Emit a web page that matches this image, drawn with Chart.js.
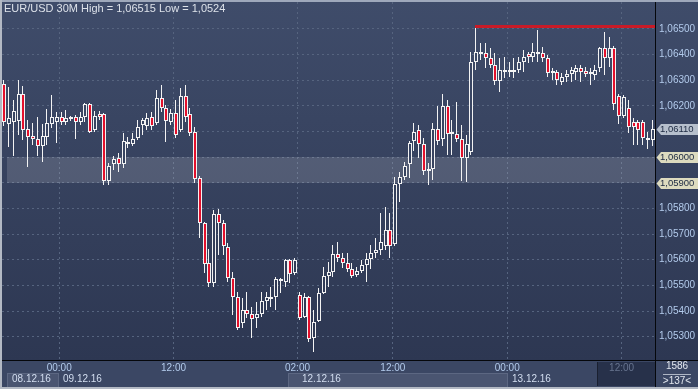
<!DOCTYPE html>
<html><head><meta charset="utf-8">
<script src="https://cdn.jsdelivr.net/npm/chart.js@4.4.0/dist/chart.umd.min.js"></script>
<style>
html,body{margin:0;padding:0;background:#3b4764;}
#wrap{position:relative;width:698px;height:389px;overflow:hidden;font-family:"Liberation Sans",Arial,sans-serif;}
.abs{position:absolute;}
#plotbg{left:0;top:0;width:698px;height:360px;background:linear-gradient(#3f4c6a,#2d3752);}
#axbg{left:0;top:360px;width:698px;height:29px;background:#3b4764;}
canvas{position:absolute;left:0;top:0;}
.txt{position:absolute;white-space:nowrap;font-size:10px;line-height:12px;}
</style></head>
<body>
<div id="wrap">
  <div class="abs" id="plotbg"></div>
  <div class="abs" id="axbg"></div>
  <div class="abs" style="left:7px;top:373px;width:50px;height:13px;background:#4a5571;border:1px solid #5c6782;"></div>
  <div class="abs" style="left:288px;top:373px;width:218px;height:13px;background:#4a5571;border:1px solid #5c6782;"></div>
  <div class="abs" style="left:597px;top:362px;width:58px;height:24px;background:#27314a;border-left:1px solid #1a2030;"></div>
  <canvas id="c" width="698" height="389"></canvas>
  <div class="abs" style="left:0;top:360px;width:698px;height:1px;background:#05070b;"></div>
  <div class="abs" style="left:655px;top:0;width:1px;height:389px;background:#05070b;"></div>
  <div class="abs" style="left:0;top:0;width:698px;height:2px;background:#9ea8bb;"></div>
  <div class="abs" style="left:0;top:0;width:2px;height:389px;background:#b3b9c4;"></div>
  <div class="abs" style="left:0;top:387px;width:698px;height:2px;background:#b3b9c4;"></div>
  <div class="txt" id="title" style="left:4px;top:2px;font-size:11px;line-height:13px;color:#dde2ea;"></div>
  <div class="txt" id="d0" style="left:12px;top:373px;color:#d3def0;"></div>
  <div class="txt" id="d1" style="left:63px;top:373px;color:#d3def0;"></div>
  <div class="txt" id="d2" style="left:302px;top:373px;color:#d3def0;"></div>
  <div class="txt" id="d3" style="left:512px;top:373px;color:#d3def0;"></div>
  <div class="txt" id="cnt1" style="left:656px;width:42px;text-align:center;top:360px;color:#e2e7ef;"></div>
  <div class="abs" style="left:663px;top:374px;width:28px;height:1px;background:#aeb6c4;"></div>
  <div class="txt" id="cnt2" style="left:656px;width:42px;text-align:center;top:375px;color:#e2e7ef;"></div>
</div>
<script>
const TITLE = 'EUR/USD 30M High = 1,06515 Low = 1,0524';
const DATE_LABELS = ['08.12.16', '09.12.16', '12.12.16', '13.12.16'];
const BAR_COUNT_TEXT = ['1586', '>137<'];

const HALF_HOURS = ['00:00','00:30','01:00','01:30','02:00','02:30','03:00','03:30','04:00','04:30','05:00','05:30',
'06:00','06:30','07:00','07:30','08:00','08:30','09:00','09:30','10:00','10:30','11:00','11:30',
'12:00','12:30','13:00','13:30','14:00','14:30','15:00','15:30','16:00','16:30','17:00','17:30',
'18:00','18:30','19:00','19:30','20:00','20:30','21:00','21:30','22:00','22:30','23:00','23:30'];

// categories: 08.12 18:00 .. 08.12 23:30, 09.12 00:00 .. 22:30, 12.12 00:00 .. 23:30, 13.12 00:00 .. 15:00
const CATEGORIES = [
  ...HALF_HOURS.slice(36).map(t => '08.12.16 ' + t),
  ...HALF_HOURS.slice(0, 46).map(t => '09.12.16 ' + t),
  ...HALF_HOURS.map(t => '12.12.16 ' + t),
  ...HALF_HOURS.slice(0, 31).map(t => '13.12.16 ' + t)
];

const OPEN = [1.06285,1.06129,1.06137,1.06141,1.06246,1.06110,1.06083,1.06071,1.06044,1.06079,
1.06129,1.06137,1.06157,1.06137,1.06153,1.06157,1.06137,1.06157,1.06207,1.06106,
1.06168,1.06168,1.05907,1.05973,1.05997,1.05973,1.06059,1.06051,1.06075,1.06126,
1.06122,1.06157,1.06133,1.06231,1.06192,1.06137,1.06172,1.06106,1.06239,1.06168,
1.06098,1.05919,1.05743,1.05587,1.05509,1.05778,1.05743,1.05650,1.05529,1.05455,
1.05353,1.05404,1.05388,1.05373,1.05388,1.05439,1.05455,1.05455,1.05525,1.05513,
1.05599,1.05548,1.05463,1.05377,1.05455,1.05295,1.05361,1.05470,1.05537,1.05552,
1.05622,1.05607,1.05587,1.05564,1.05541,1.05556,1.05580,1.05603,1.05626,1.05638,
1.05654,1.05716,1.05661,1.05895,1.05923,1.05973,1.06063,1.06106,1.06051,1.05954,
1.05954,1.06110,1.06071,1.06200,1.06098,1.06090,1.06071,1.05997,1.06020,1.06371,
1.06410,1.06406,1.06387,1.06360,1.06297,1.06332,1.06336,1.06340,1.06340,1.06371,
1.06402,1.06391,1.06406,1.06406,1.06387,1.06328,1.06332,1.06293,1.06313,1.06324,
1.06332,1.06348,1.06336,1.06332,1.06321,1.06348,1.06426,1.06387,1.06426,1.06239,
1.06161,1.06192,1.06137,1.06137,1.06137,1.06075,1.06067];

const HIGH = [1.06301,1.06274,1.06223,1.06301,1.06278,1.06145,1.06133,1.06157,1.06129,1.06188,
1.06243,1.06176,1.06176,1.06184,1.06161,1.06165,1.06176,1.06211,1.06211,1.06180,
1.06180,1.06172,1.05977,1.06005,1.06016,1.06094,1.06079,1.06094,1.06145,1.06153,
1.06172,1.06176,1.06262,1.06282,1.06204,1.06188,1.06223,1.06270,1.06282,1.06192,
1.06118,1.05927,1.05747,1.05642,1.05794,1.05798,1.05755,1.05665,1.05552,1.05474,
1.05451,1.05474,1.05416,1.05435,1.05474,1.05474,1.05494,1.05533,1.05529,1.05603,
1.05603,1.05607,1.05474,1.05470,1.05459,1.05404,1.05490,1.05572,1.05591,1.05658,
1.05669,1.05626,1.05626,1.05587,1.05572,1.05599,1.05626,1.05658,1.05685,1.05782,
1.05806,1.05782,1.05923,1.05942,1.05981,1.06063,1.06133,1.06126,1.06075,1.05977,
1.06133,1.06200,1.06246,1.06223,1.06145,1.06215,1.06126,1.06087,1.06410,1.06515,
1.06445,1.06445,1.06426,1.06406,1.06387,1.06391,1.06371,1.06387,1.06391,1.06418,
1.06410,1.06445,1.06496,1.06430,1.06399,1.06348,1.06340,1.06328,1.06340,1.06352,
1.06360,1.06360,1.06352,1.06348,1.06360,1.06430,1.06488,1.06469,1.06434,1.06246,
1.06243,1.06223,1.06153,1.06145,1.06145,1.06098,1.06145];

const LOW = [1.06122,1.06040,1.06005,1.06087,1.06067,1.05962,1.06048,1.06005,1.05981,1.06048,
1.06114,1.06055,1.06126,1.06126,1.06141,1.06071,1.06126,1.06137,1.06094,1.06098,
1.06145,1.05892,1.05892,1.05950,1.05942,1.05958,1.06036,1.06044,1.06067,1.06087,
1.06106,1.06106,1.06126,1.06176,1.06059,1.06126,1.06075,1.06098,1.06137,1.06083,
1.05899,1.05685,1.05548,1.05494,1.05494,1.05619,1.05619,1.05513,1.05385,1.05326,
1.05334,1.05373,1.05295,1.05334,1.05377,1.05404,1.05416,1.05404,1.05470,1.05494,
1.05509,1.05541,1.05365,1.05373,1.05279,1.05240,1.05357,1.05466,1.05494,1.05533,
1.05591,1.05568,1.05552,1.05529,1.05533,1.05548,1.05513,1.05564,1.05607,1.05619,
1.05638,1.05607,1.05654,1.05825,1.05911,1.05919,1.06024,1.05997,1.05931,1.05892,
1.05911,1.06048,1.06044,1.06009,1.06009,1.06059,1.05907,1.05903,1.06009,1.06340,
1.06379,1.06348,1.06348,1.06282,1.06254,1.06309,1.06313,1.06309,1.06328,1.06332,
1.06367,1.06371,1.06371,1.06371,1.06313,1.06301,1.06282,1.06282,1.06293,1.06293,
1.06301,1.06293,1.06313,1.06282,1.06301,1.06332,1.06321,1.06352,1.06184,1.06129,
1.06153,1.06094,1.06048,1.06048,1.06048,1.06032,1.06044];

const CLOSE = [1.06137,1.06153,1.06180,1.06246,1.06106,1.06079,1.06071,1.06044,1.06083,1.06133,
1.06157,1.06157,1.06137,1.06153,1.06157,1.06137,1.06157,1.06207,1.06098,1.06161,
1.06157,1.05907,1.05966,1.05993,1.05973,1.06063,1.06051,1.06071,1.06118,1.06145,
1.06153,1.06122,1.06231,1.06192,1.06141,1.06172,1.06087,1.06239,1.06157,1.06094,
1.05915,1.05743,1.05583,1.05509,1.05778,1.05743,1.05654,1.05529,1.05455,1.05334,
1.05404,1.05388,1.05369,1.05388,1.05439,1.05455,1.05451,1.05525,1.05517,1.05599,
1.05544,1.05599,1.05373,1.05455,1.05291,1.05357,1.05470,1.05537,1.05552,1.05622,
1.05607,1.05587,1.05564,1.05537,1.05556,1.05580,1.05603,1.05626,1.05638,1.05669,
1.05716,1.05654,1.05895,1.05923,1.05966,1.06055,1.06098,1.06051,1.05946,1.05950,
1.06110,1.06063,1.06200,1.06090,1.06090,1.06071,1.05997,1.06051,1.06371,1.06410,
1.06402,1.06387,1.06360,1.06297,1.06340,1.06340,1.06340,1.06338,1.06371,1.06391,
1.06391,1.06410,1.06410,1.06387,1.06328,1.06336,1.06301,1.06313,1.06324,1.06340,
1.06348,1.06332,1.06324,1.06324,1.06340,1.06426,1.06387,1.06426,1.06207,1.06161,
1.06235,1.06118,1.06118,1.06106,1.06075,1.06067,1.06110];

const X_TICK_INDEX = [12, 36, 62, 82, 106, 130];
const X_TICK_TEXT = ['00:00', '12:00', '02:00', '12:00', '00:00', '12:00'];
const Y_TICKS = [1.053, 1.054, 1.055, 1.056, 1.057, 1.058, 1.059, 1.060, 1.061, 1.062, 1.063, 1.064, 1.065];
const Y_TICK_TEXT = ['1,05300','1,05400','1,05500','1,05600','1,05700','1,05800','','','','1,06200','1,06300','1,06400','1,06500'];
const TAG_VALUES = [1.0611, 1.0600, 1.0590];
const TAG_TEXT = ['1,06110', '1,06000', '1,05900'];
const BAND = [1.0590, 1.0600];
const BAND_START_INDEX = 1;
const HIGH_VALUE = 1.06515;
const HIGH_INDEX = 99;
const Y_MIN = 1.05209, Y_MAX = 1.06605;

document.getElementById('title').textContent = TITLE;
['d0','d1','d2','d3'].forEach((id, i) => document.getElementById(id).textContent = DATE_LABELS[i]);
document.getElementById('cnt1').textContent = BAR_COUNT_TEXT[0];
document.getElementById('cnt2').textContent = BAR_COUNT_TEXT[1];

const RED = '#e3102c';
const WHITE = '#f3f3f3';
const GRID = '#56647f';
const TOPC = [0x3f, 0x4c, 0x6a], BOTC = [0x2d, 0x37, 0x52];
function bgAt(price) {
  const py = 2 + (Y_MAX - price) / (Y_MAX - Y_MIN) * 358;
  const t = Math.max(0, Math.min(1, py / 360));
  const c = TOPC.map((v, k) => Math.round(v + (BOTC[k] - v) * t));
  return `rgb(${c[0]},${c[1]},${c[2]})`;
}

Chart.defaults.font.family = '"Liberation Sans", Arial, sans-serif';

const snapPlugin = {
  id: 'snap',
  beforeDatasetsDraw(chart) {
    chart.data.datasets.forEach((ds, di) => {
      const meta = chart.getDatasetMeta(di);
      meta.data.forEach(el => {
        const cx = Math.round(el.x);
        el.y = Math.round(el.y);
        el.base = Math.round(el.base);
        if (ds.label === 'wick') { el.x = cx - 0.5; el.width = 1; }
        else {
          el.x = cx; el.width = 4;
          if (Math.abs(el.base - el.y) < 2) el.base = el.y + 2;
        }
      });
    });
  }
};

const overlayPlugin = {
  id: 'overlay',
  beforeDatasetsDraw(chart) {
    const {ctx, chartArea: a, scales: {x, y}} = chart;
    const yTop = Math.round(y.getPixelForValue(BAND[1]));
    const yBot = Math.round(y.getPixelForValue(BAND[0]));
    const half = (x.getPixelForValue(1) - x.getPixelForValue(0)) / 2;
    const xl = Math.round(x.getPixelForValue(BAND_START_INDEX) - half);
    ctx.save();
    ctx.fillStyle = 'rgba(255,255,255,0.14)';
    ctx.fillRect(xl, yTop, a.right - xl, yBot - yTop);
    ctx.restore();
  },
  afterDatasetsDraw(chart) {
    const {ctx, chartArea: a, scales: {x, y}} = chart;
    const yh = Math.round(y.getPixelForValue(HIGH_VALUE));
    const xh = Math.round(x.getPixelForValue(HIGH_INDEX)) - 1;
    ctx.save();
    ctx.fillStyle = '#c81b27';
    ctx.fillRect(xh, yh, a.right - xh, 3);
    ctx.restore();
  },
  afterDraw(chart) {
    const {ctx, chartArea: a, scales: {y}} = chart;
    ctx.save();
    TAG_VALUES.forEach((v, i) => {
      const yy = Math.round(y.getPixelForValue(v)) + 0.5;
      ctx.fillStyle = i === 0 ? '#b6bfcc' : '#dddbbf';
      ctx.beginPath();
      ctx.moveTo(a.right + 1.5, yy);
      ctx.lineTo(a.right + 6, yy - 5.5);
      ctx.lineTo(698, yy - 5.5);
      ctx.lineTo(698, yy + 5.5);
      ctx.lineTo(a.right + 6, yy + 5.5);
      ctx.closePath();
      ctx.fill();
      ctx.fillStyle = '#1b2840';
      ctx.font = '9.5px "Liberation Sans", Arial, sans-serif';
      ctx.textBaseline = 'middle';
      ctx.textAlign = 'left';
      ctx.fillText(TAG_TEXT[i], a.right + 5, yy);
    });
    ctx.restore();
  }
};

function noPad(s) { s.paddingTop = 0; s.paddingBottom = 0; s.paddingLeft = 0; s.paddingRight = 0; }

new Chart(document.getElementById('c'), {
  type: 'bar',
  data: {
    labels: CATEGORIES,
    datasets: [
      {
        label: 'wick',
        data: HIGH.map((h, i) => [LOW[i], h]),
        backgroundColor: WHITE,
        borderWidth: 0,
        barThickness: 1,
        grouped: false,
        inflateAmount: 0,
        order: 2
      },
      {
        label: 'body',
        data: OPEN.map((o, i) => [o, CLOSE[i]]),
        backgroundColor: (c) => {
          const i = c.dataIndex;
          if (i === undefined) return RED;
          if (CLOSE[i] < OPEN[i]) return RED;
          return bgAt((OPEN[i] + CLOSE[i]) / 2);
        },
        borderColor: WHITE,
        borderWidth: 1,
        borderSkipped: false,
        barThickness: 4,
        grouped: false,
        inflateAmount: 0,
        order: 1
      }
    ]
  },
  options: {
    responsive: false,
    animation: false,
    events: [],
    layout: {padding: {left: 2, top: 2, right: 0, bottom: 0}},
    plugins: {legend: {display: false}, tooltip: {enabled: false}, title: {display: false}},
    scales: {
      x: {
        type: 'category',
        offset: true,
        grid: {
          offset: true,
          drawTicks: false,
          lineWidth: 1,
          color: (c) => X_TICK_INDEX.includes(c.index) ? GRID : 'rgba(0,0,0,0)'
        },
        border: {display: false, dash: [2, 3]},
        ticks: {
          autoSkip: false,
          maxRotation: 0,
          minRotation: 0,
          padding: 2,
          labelOffset: -2.4,
          font: {size: 10},
          color: (c) => c.index === 130 ? '#67748f' : '#b3cbec',
          callback: (v, i) => {
            const k = X_TICK_INDEX.indexOf(i);
            return k >= 0 ? X_TICK_TEXT[k] : '';
          }
        },
        afterFit: (s) => { s.height = 29; noPad(s); }
      },
      y: {
        type: 'linear',
        position: 'right',
        min: Y_MIN,
        max: Y_MAX,
        afterBuildTicks: (s) => { s.ticks = Y_TICKS.map(v => ({value: v})); },
        grid: {drawTicks: false, lineWidth: 1, color: GRID},
        border: {display: false, dash: [2, 3]},
        ticks: {
          padding: 4,
          font: {size: 10},
          color: '#b3cbec',
          callback: (v) => {
            const k = Y_TICKS.findIndex(t => Math.abs(t - v) < 1e-7);
            return k >= 0 ? Y_TICK_TEXT[k] : '';
          }
        },
        afterFit: (s) => { s.width = 43; noPad(s); }
      }
    }
  },
  plugins: [snapPlugin, overlayPlugin]
});
</script>
</body></html>
